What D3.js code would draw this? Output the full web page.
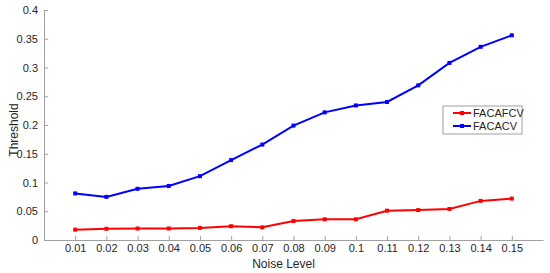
<!DOCTYPE html>
<html>
<head>
<meta charset="utf-8">
<script src="https://cdn.jsdelivr.net/npm/d3@7"></script>
<style>
  body { margin: 0; background: #fff; }
  svg { font-family: "Liberation Sans", Arial, sans-serif; }
  .axis path, .axis line { stroke: #a0a0a0; }
  .axis text { fill: #262626; font-size: 11px; }
</style>
</head>
<body>
<svg width="550" height="273"></svg>
<script>
var noise = [0.01, 0.02, 0.03, 0.04, 0.05, 0.06, 0.07, 0.08, 0.09, 0.1, 0.11, 0.12, 0.13, 0.14, 0.15];
var facafcv = [0.018, 0.0195, 0.020, 0.020, 0.021, 0.024, 0.022, 0.033, 0.036, 0.036, 0.051, 0.052, 0.054, 0.068, 0.072];
var facacv = [0.081, 0.075, 0.089, 0.094, 0.111, 0.139, 0.166, 0.199, 0.222, 0.234, 0.240, 0.269, 0.308, 0.336, 0.356];
var yTicks = [0, 0.05, 0.1, 0.15, 0.2, 0.25, 0.3, 0.35, 0.4];

var series = [
  {name: "FACAFCV", color: "#ff0000", values: facafcv},
  {name: "FACACV", color: "#0000ff", values: facacv}
];

var svg = d3.select("svg"),
  margin = {top: 10, right: 7, bottom: 33, left: 44},
  width = +svg.attr("width") - margin.left - margin.right,
  height = +svg.attr("height") - margin.top - margin.bottom,
  g = svg.append("g").attr("transform", "translate(" + margin.left + "," + margin.top + ")");

var x = d3.scaleLinear().domain([0, 0.16]).range([0, width]);
var y = d3.scaleLinear().domain([0, 0.4]).range([height, 0]);

g.append("g")
  .attr("class", "axis")
  .attr("transform", "translate(0," + height + ")")
  .call(d3.axisBottom(x).tickValues(noise).tickSize(-4).tickSizeOuter(0).tickPadding(4)
    .tickFormat(function(d) { return String(+d.toFixed(2)); }));

g.append("g")
  .attr("class", "axis")
  .call(d3.axisLeft(y).tickValues(yTicks).tickSize(-4).tickSizeOuter(0)
    .tickFormat(function(d) { return String(+d.toFixed(2)); }))
  .selectAll("text").attr("x", -6);

var line = d3.line()
  .x(function(d, i) { return x(noise[i]); })
  .y(function(d) { return y(d); });

series.forEach(function(s) {
  g.append("path")
    .datum(s.values)
    .attr("fill", "none")
    .attr("stroke", s.color)
    .attr("stroke-width", 2)
    .attr("d", line);

  g.selectAll(null)
    .data(s.values)
    .enter().append("rect")
      .attr("x", function(d, i) { return x(noise[i]) - 2; })
      .attr("y", function(d) { return y(d) - 2; })
      .attr("width", 4)
      .attr("height", 4)
      .attr("fill", s.color);
});

svg.append("text")
  .attr("x", margin.left + x(0.08) - 10)
  .attr("y", 268)
  .attr("text-anchor", "middle")
  .attr("font-size", 12)
  .attr("fill", "#262626")
  .text("Noise Level");

svg.append("text")
  .attr("transform", "translate(18," + (margin.top + height / 2 + 5) + ") rotate(-90)")
  .attr("text-anchor", "middle")
  .attr("font-size", 12)
  .attr("fill", "#262626")
  .text("Threshold");

var legend = svg.append("g").attr("transform", "translate(443,106)");
legend.append("rect")
  .attr("width", 79)
  .attr("height", 28)
  .attr("fill", "#fff")
  .attr("stroke", "#a0a0a0");

var item = legend.selectAll("g")
  .data(series)
  .enter().append("g")
    .attr("transform", function(d, i) { return "translate(0," + (7 + i * 13) + ")"; });

item.append("line")
  .attr("x1", 10).attr("x2", 28)
  .attr("stroke", function(d) { return d.color; })
  .attr("stroke-width", 2);

item.append("rect")
  .attr("x", 17).attr("y", -2)
  .attr("width", 4).attr("height", 4)
  .attr("fill", function(d) { return d.color; });

item.append("text")
  .attr("x", 30)
  .attr("dy", "0.35em")
  .attr("font-size", 11)
  .attr("fill", "#262626")
  .text(function(d) { return d.name; });
</script>
</body>
</html>
